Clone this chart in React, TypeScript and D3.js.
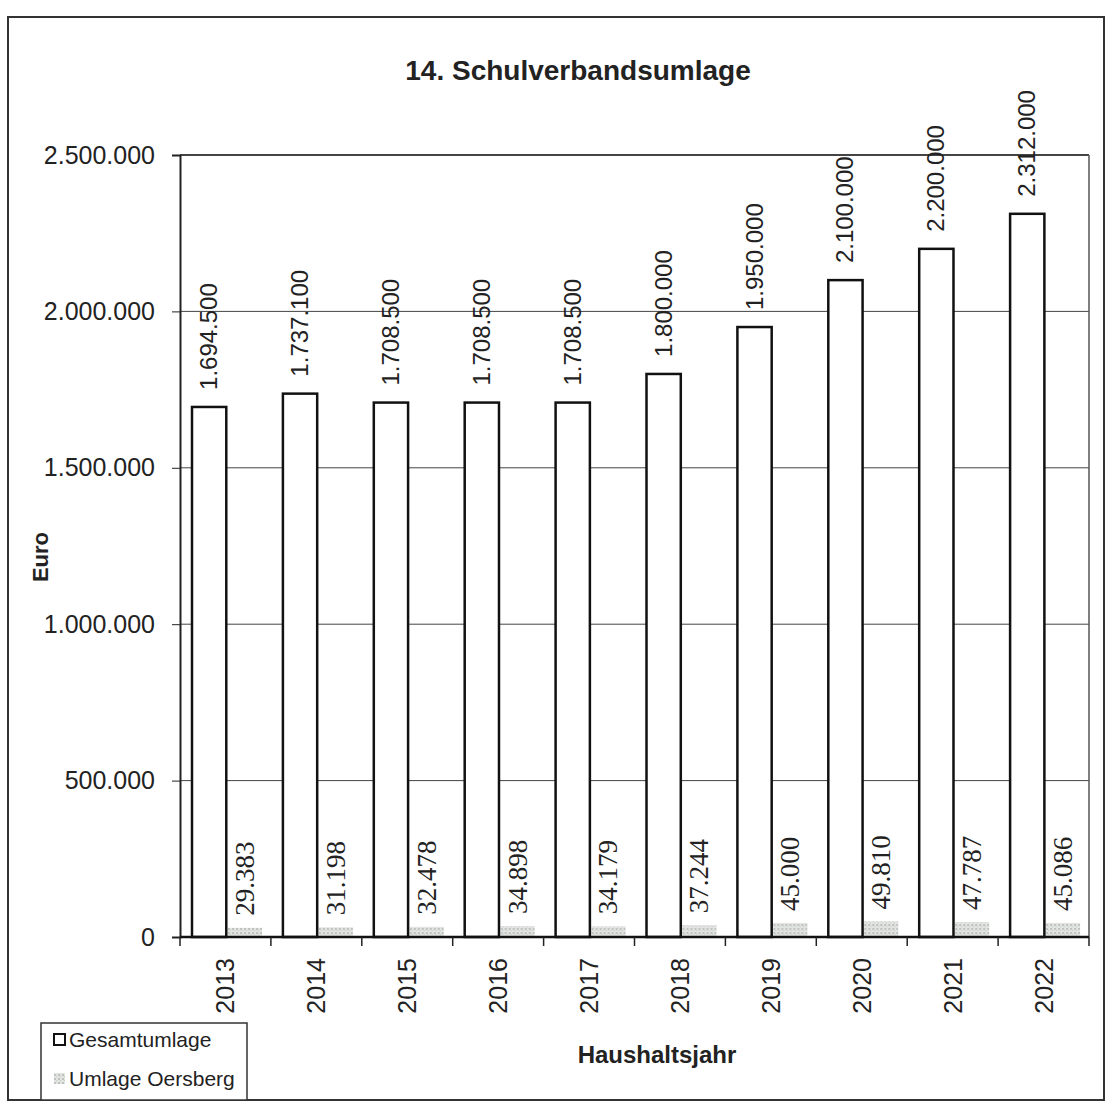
import React, { useRef, useEffect } from "react";
import * as d3 from "d3";

const years = ["2013", "2014", "2015", "2016", "2017", "2018", "2019", "2020", "2021", "2022"];
const gesamtumlage = [1694500, 1737100, 1708500, 1708500, 1708500, 1800000, 1950000, 2100000, 2200000, 2312000];
const umlageOersberg = [29383, 31198, 32478, 34898, 34179, 37244, 45000, 49810, 47787, 45086];
const yTicks = [0, 500000, 1000000, 1500000, 2000000, 2500000];
const seriesNames = ["Gesamtumlage", "Umlage Oersberg"];

const W = 1109;
const H = 1109;
const plot = { left: 180, right: 1089, top: 155, bottom: 937 };

const fmt = (v: number) => d3.format(",")(v).replace(/,/g, ".");
const sans = "'Liberation Sans', Arial, sans-serif";
const serif = "'Liberation Serif', 'Times New Roman', serif";

export default function App() {
  const ref = useRef<SVGSVGElement>(null);

  useEffect(() => {
    const svg = d3.select(ref.current);
    svg.selectAll("*").remove();

    const defs = svg.append("defs");
    const pat = defs.append("pattern")
      .attr("id", "speckle")
      .attr("width", 4).attr("height", 4)
      .attr("patternUnits", "userSpaceOnUse");
    pat.append("rect").attr("width", 4).attr("height", 4).attr("fill", "#e2e4e2");
    pat.append("rect").attr("x", 0).attr("y", 0).attr("width", 2).attr("height", 2).attr("fill", "#bfc3c0");
    pat.append("rect").attr("x", 2).attr("y", 2).attr("width", 1).attr("height", 1).attr("fill", "#c8ccc9");

    svg.append("rect").attr("width", W).attr("height", H).attr("fill", "#fff");

    // outer frame
    svg.append("rect")
      .attr("x", 8).attr("y", 17).attr("width", 1096).attr("height", 1083)
      .attr("fill", "none").attr("stroke", "#333").attr("stroke-width", 2);

    const x0 = d3.scaleBand().domain(years).range([plot.left, plot.right]);
    const x1 = d3.scaleBand().domain(seriesNames).range([12, 82]).paddingInner(0.04);
    const y = d3.scaleLinear().domain([0, 2500000]).range([plot.bottom, plot.top]);

    // title
    svg.append("text")
      .attr("x", 578).attr("y", 80)
      .attr("text-anchor", "middle")
      .style("font-family", sans).style("font-weight", "bold").style("font-size", "28px")
      .attr("fill", "#222")
      .text("14. Schulverbandsumlage");

    // gridlines
    svg.append("g").selectAll("line")
      .data(yTicks.filter(d => d > 0))
      .join("line")
      .attr("x1", plot.left).attr("x2", plot.right)
      .attr("y1", d => y(d)).attr("y2", d => y(d))
      .attr("stroke", "#444").attr("stroke-width", d => d === 2500000 ? 2 : 1);

    // right border
    svg.append("line")
      .attr("x1", plot.right).attr("x2", plot.right)
      .attr("y1", plot.top).attr("y2", plot.bottom)
      .attr("stroke", "#555").attr("stroke-width", 1.5);

    // y axis
    const yAxis = svg.append("g")
      .attr("transform", `translate(${plot.left},0)`)
      .call(d3.axisLeft(y).tickValues(yTicks).tickFormat(d => fmt(+d)).tickSize(8).tickPadding(17));
    yAxis.select(".domain").attr("stroke", "#222").attr("stroke-width", 2);
    yAxis.selectAll(".tick line").attr("stroke", "#222");
    yAxis.selectAll("text")
      .style("font-family", sans).style("font-size", "25px").attr("fill", "#222");

    // bars
    const groups = svg.append("g").selectAll("g")
      .data(years)
      .join("g")
      .attr("transform", d => `translate(${x0(d)},0)`);

    groups.append("rect")
      .attr("x", x1("Umlage Oersberg")!)
      .attr("width", x1.bandwidth())
      .attr("y", (_, i) => y(umlageOersberg[i]))
      .attr("height", (_, i) => plot.bottom - y(umlageOersberg[i]))
      .attr("fill", "url(#speckle)");

    groups.append("rect")
      .attr("x", x1("Gesamtumlage")!)
      .attr("width", x1.bandwidth())
      .attr("y", (_, i) => y(gesamtumlage[i]))
      .attr("height", (_, i) => plot.bottom - y(gesamtumlage[i]))
      .attr("fill", "#fff").attr("stroke", "#111").attr("stroke-width", 2.5);

    // value labels
    groups.append("text")
      .attr("transform", (_, i) =>
        `translate(${x1("Gesamtumlage")! + x1.bandwidth() / 2 + 8},${y(gesamtumlage[i]) - 17}) rotate(-90)`)
      .style("font-family", sans).style("font-size", "24px").attr("fill", "#222")
      .text((_, i) => fmt(gesamtumlage[i]));

    groups.append("text")
      .attr("transform", (_, i) =>
        `translate(${x1("Umlage Oersberg")! + x1.bandwidth() / 2 + 9},${y(umlageOersberg[i]) - 12}) rotate(-90)`)
      .style("font-family", serif).style("font-size", "27px").attr("fill", "#222")
      .text((_, i) => fmt(umlageOersberg[i]));

    // x axis
    svg.append("line")
      .attr("x1", plot.left).attr("x2", plot.right)
      .attr("y1", plot.bottom).attr("y2", plot.bottom)
      .attr("stroke", "#111").attr("stroke-width", 2.5);
    svg.append("g").selectAll("line")
      .data(years.concat(["end"]))
      .join("line")
      .attr("x1", (_, i) => plot.left + i * x0.step())
      .attr("x2", (_, i) => plot.left + i * x0.step())
      .attr("y1", plot.bottom).attr("y2", plot.bottom + 9)
      .attr("stroke", "#222").attr("stroke-width", 1.5);

    svg.append("g").selectAll("text")
      .data(years)
      .join("text")
      .attr("transform", d => `translate(${x0(d)! + x0.bandwidth() / 2 + 9},${plot.bottom + 21}) rotate(-90)`)
      .attr("text-anchor", "end")
      .style("font-family", sans).style("font-size", "25px").attr("fill", "#222")
      .text(d => d);

    // axis titles
    svg.append("text")
      .attr("transform", `translate(48,557) rotate(-90)`)
      .attr("text-anchor", "middle")
      .style("font-family", sans).style("font-weight", "bold").style("font-size", "22px")
      .attr("fill", "#222")
      .text("Euro");

    svg.append("text")
      .attr("x", 657).attr("y", 1063)
      .attr("text-anchor", "middle")
      .style("font-family", sans).style("font-weight", "bold").style("font-size", "24px")
      .attr("fill", "#222")
      .text("Haushaltsjahr");

    // legend
    const lg = svg.append("g");
    lg.append("rect")
      .attr("x", 41).attr("y", 1023).attr("width", 206).attr("height", 77)
      .attr("fill", "#fff").attr("stroke", "#333").attr("stroke-width", 1.5);
    const items = lg.selectAll("g.item")
      .data(seriesNames)
      .join("g")
      .attr("class", "item")
      .attr("transform", (_, i) => `translate(54,${1047 + i * 39})`);
    items.append("rect")
      .attr("x", 0).attr("y", -13).attr("width", 11).attr("height", 11)
      .attr("fill", (_, i) => i === 0 ? "#fff" : "url(#speckle)")
      .attr("stroke", (_, i) => i === 0 ? "#111" : "none")
      .attr("stroke-width", 2);
    items.append("text")
      .attr("x", 15).attr("y", 0)
      .style("font-family", sans).style("font-size", "21px").attr("fill", "#222")
      .text(d => d);
  }, []);

  return (
    <svg
      ref={ref}
      width={W}
      height={H}
      style={{ position: "absolute", left: 0, top: 0 }}
    />
  );
}
